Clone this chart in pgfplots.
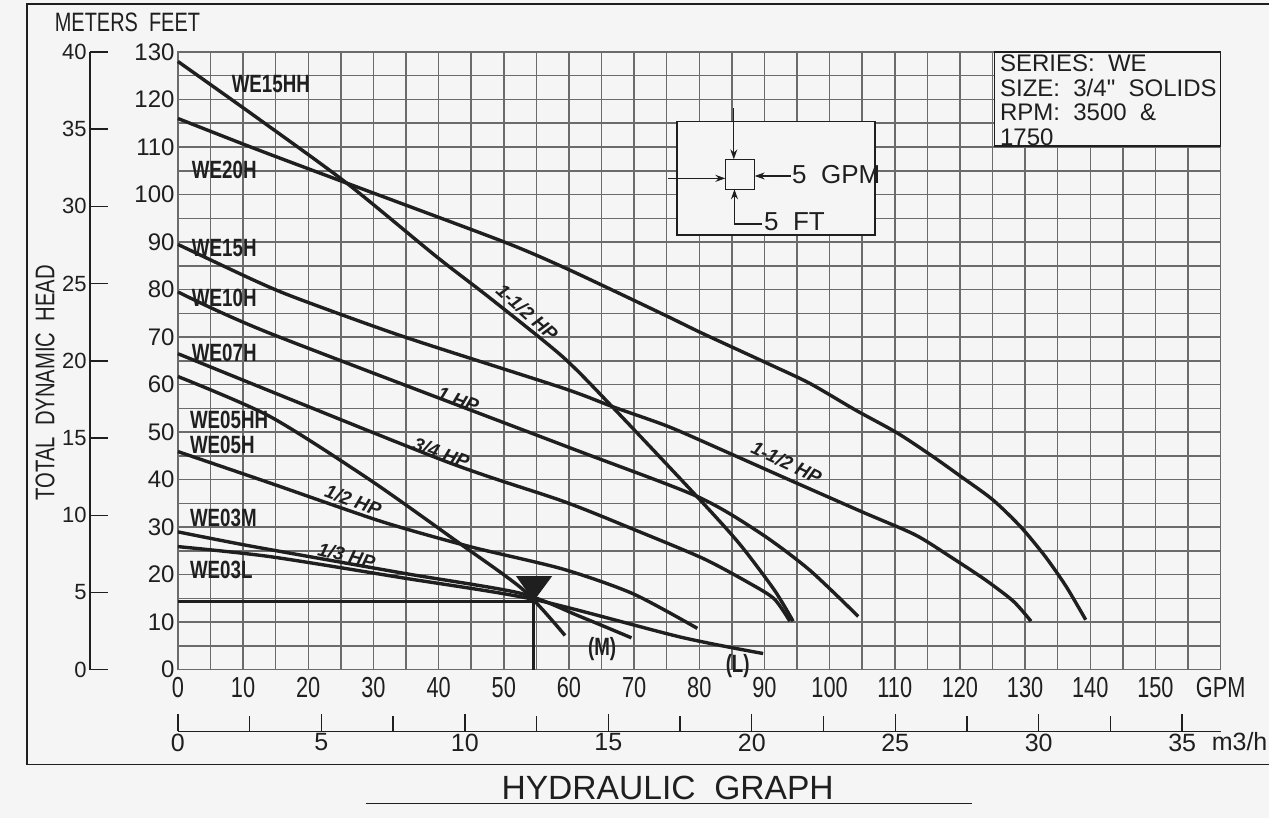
\documentclass[border=0pt]{standalone}
\usepackage{fontspec}
\setmainfont{Liberation Sans}
\newfontfamily\narrow{Liberation Sans}[FakeStretch=0.75]
\usepackage{pgfplots}
\pgfplotsset{compat=1.18}
\usetikzlibrary{arrows.meta}

\definecolor{paper}{gray}{0.96}
\definecolor{ink}{gray}{0.12}
\definecolor{gridc}{gray}{0.42}

\tikzset{
  curve/.style={ink, line width=1.7pt, smooth, tension=0.45},
  wename/.style={font=\narrow\bfseries\fontsize{12.5}{13}\selectfont, text=ink, anchor=west, inner sep=0pt},
  hplabel/.style={font=\bfseries\itshape\fontsize{9.5}{10}\selectfont, text=ink, inner sep=0pt},
  keyarrow/.style={ink, line width=0.6pt, -{Stealth[length=5pt,width=3.5pt]}},
}

% pump curves, feet of head vs GPM
\pgfplotstableread{
x y
0 128
12.3 116
25.9 102.4
39.7 86.9
47.9 78.2
59 65.9
66.6 55.4
79.6 36.5
86.1 26.6
91.5 16.8
94.4 10.2
}\weHH
\pgfplotstableread{
x y
0 116
12.3 109.4
25.9 102.4
49.9 90.1
59 84.8
67.1 79.6
75.2 74.3
80.6 70.7
90.4 64.5
96.9 60.3
103.9 54.7
110.4 49.8
115.8 44.9
120.1 40.7
125 35.8
129.3 30.1
133.1 23.8
136.3 17.5
139.3 10.5
}\weTwentyH
\pgfplotstableread{
x y
0 89.5
11.6 82
18.2 78.2
34.6 70.1
59 59.3
66.6 55.4
75.2 51.2
83.4 46.3
93.4 40.2
105 33.2
113.1 28.4
118.5 23.8
123.9 18.9
128.2 14.4
130.9 10.2
}\weFifteenH
\pgfplotstableread{
x y
0 79.5
14.1 70.8
59 47.3
79.6 36.5
89.3 28.8
96.9 21.0
104.4 11.2
}\weTenH
\pgfplotstableread{
x y
0 66.5
40.4 44.2
59 35.5
69.8 29.6
80.6 23.4
87.7 18.2
91.5 14.9
93.9 10.2
}\weSevenH
\pgfplotstableread{
x y
0 61.7
14.1 53.3
29.4 40
43 26.8
53 16.8
59.4 7.2
}\weFiveHH
\pgfplotstableread{
x y
0 45.9
14.1 39.3
31.2 31.2
44.8 25.9
59 21.2
69.8 16
79.7 8.7
}\weFiveH
\pgfplotstableread{
x y
0 29
11.6 25.9
34.6 20.3
52.5 16.1
61.7 11.2
69.6 6.7
}\weThreeM
\pgfplotstableread{
x y
0 25.9
14.1 23.8
34.6 19.3
54.6 14.8
77 6.9
89.8 3.4
}\weThreeL

\begin{document}
\begin{tikzpicture}
% page = reference at 0.5pt per pixel, origin of the plot at (0,0)
\begin{scope}[x=0.5pt,y=-0.5pt,shift={(-89pt,335pt)}]
  \path[use as bounding box] (0,0) rectangle (1270,818);
  \fill[paper] (0,0) rectangle (1270,818);
\end{scope}

\begin{axis}[
    at={(0,0)}, anchor=south west,
    scale only axis, width=521.6pt, height=309pt,
    xmin=0, xmax=160, ymin=0, ymax=130,
    xtick={0,10,...,160},
    xticklabels={0,10,20,30,40,50,60,70,80,90,100,110,120,130,140,150,GPM},
    minor xtick={5,15,...,155},
    ytick={0,10,...,130}, minor ytick={5,15,...,125},
    grid=both,
    grid style={gridc, line width=0.75pt},
    minor grid style={gridc, line width=0.75pt},
    major tick length=0pt, minor tick length=0pt,
    axis line style={gridc, line width=0.8pt},
    /pgf/number format/assume math mode=true,
    xticklabel style={font=\narrow\fontsize{14.5}{15}\selectfont, inner sep=3.5pt, text=ink},
    yticklabel style={font=\fontsize{12}{12}\selectfont, inner sep=1.5pt, text=ink},
    clip=false,
  ]
  \addplot[curve] table {\weHH};
  \addplot[curve] table {\weTwentyH};
  \addplot[curve] table {\weFifteenH};
  \addplot[curve] table {\weTenH};
  \addplot[curve] table {\weSevenH};
  \addplot[curve] table {\weFiveHH};
  \addplot[curve] table {\weFiveH};
  \addplot[curve] table {\weThreeM};
  \addplot[curve] table {\weThreeL};

  % duty point
  \addplot[ink, line width=1.5pt] coordinates {(0,14.4) (54.6,14.4) (54.6,0)};
  \addplot[ink, fill=ink] coordinates {(52.0,19.6) (57.3,19.6) (54.6,14.6)} -- cycle;

  % model names
  \node[wename] at (axis cs:8.2,123.3) {WE15HH};
  \node[wename] at (axis cs:2.1,105.2) {WE20H};
  \node[wename] at (axis cs:2.1,88.7) {WE15H};
  \node[wename] at (axis cs:2.1,78.2) {WE10H};
  \node[wename] at (axis cs:2.1,66.6) {WE07H};
  \node[wename] at (axis cs:1.8,52.6) {WE05HH};
  \node[wename] at (axis cs:1.8,47.3) {WE05H};
  \node[wename] at (axis cs:1.8,31.9) {WE03M};
  \node[wename] at (axis cs:1.8,21.0) {WE03L};
  \node[wename, anchor=center] at (axis cs:65.1,4.4) {(M)};
  \node[wename, anchor=center] at (axis cs:85.9,0.8) {(L)};

  % horsepower
  \node[hplabel, rotate=-42] at (axis cs:53.6,75.2) {1-1/2 HP};
  \node[hplabel, rotate=-25] at (axis cs:93.4,43.6) {1-1/2 HP};
  \node[hplabel, rotate=-20] at (axis cs:43.0,56.8) {1 HP};
  \node[hplabel, rotate=-20] at (axis cs:40.4,45.6) {3/4 HP};
  \node[hplabel, rotate=-20] at (axis cs:26.9,35.6) {1/2 HP};
  \node[hplabel, rotate=-14] at (axis cs:25.9,24.0) {1/3 HP};

  % series box
  \draw[ink, line width=0.7pt, fill=paper] (axis cs:125.3,110.2) rectangle (axis cs:160,130);
  \node[anchor=north west, inner sep=0pt, align=left, text=ink,
        font=\fontsize{12}{12.25}\selectfont] at (axis cs:126.1,129.4)
       {SERIES:\ \ WE\\SIZE:\ \ 3/4\textquotedbl\ \ SOLIDS\\RPM:\ \ 3500\ \ \&\\1750};

  % scale key
  \draw[ink, line width=0.8pt, fill=paper] (axis cs:76.6,91.5) rectangle (axis cs:107,115.4);
  \draw[ink, line width=0.6pt] (axis cs:84.0,101.1) rectangle (axis cs:88.5,107.4);
  \draw[keyarrow] (axis cs:85.3,118.2) -- (axis cs:85.3,107.4);
  \draw[keyarrow] (axis cs:75.2,103.4) -- (axis cs:84.0,103.4);
  \draw[keyarrow] (axis cs:94.1,103.9) -- (axis cs:88.5,103.9);
  \draw[keyarrow] (axis cs:89.7,93.8) -- (axis cs:85.4,93.8) -- (axis cs:85.4,101.1);
  \node[anchor=west, inner sep=0pt, text=ink, font=\fontsize{13}{13}\selectfont] at (axis cs:94.2,104.2) {5\ \ GPM};
  \node[anchor=west, inner sep=0pt, text=ink, font=\fontsize{13}{13}\selectfont] at (axis cs:89.9,94.2) {5\ \ FT};
\end{axis}

% metres scale
\begin{axis}[
    at={(-44pt,0pt)}, anchor=south west,
    scale only axis, width=20pt, height=309pt,
    xmin=0, xmax=1, ymin=0, ymax=40,
    hide x axis, axis y line*=left,
    ytick={0,5,...,40}, tick align=inside, major tick length=9pt,
    tick style={ink, line width=0.7pt}, axis line style={ink, line width=0.7pt},
    /pgf/number format/assume math mode=true,
    yticklabel style={font=\fontsize{11}{11}\selectfont, inner sep=1.5pt, text=ink},
  ]
  \addplot[draw=none] coordinates {(0,0)};
\end{axis}

% cubic metres per hour scale
\begin{axis}[
    at={(0,-30.85pt)}, anchor=south west,
    scale only axis, width=521.6pt, height=10pt,
    xmin=0, xmax=36.34, ymin=0, ymax=1,
    hide y axis, axis x line*=bottom,
    xtick={0,5,...,35}, minor xtick={2.5,7.5,...,32.5},
    tick align=inside, major tick length=8.5pt, minor tick length=7.5pt,
    tick style={ink, line width=0.7pt}, axis line style={ink, line width=0.7pt},
    /pgf/number format/assume math mode=true,
    xticklabel style={font=\fontsize{12.5}{12.5}\selectfont, inner sep=1pt, text=ink},
  ]
  \addplot[draw=none] coordinates {(0,0)};
\end{axis}

\begin{scope}[x=0.5pt,y=-0.5pt,shift={(-89pt,335pt)}]
  \draw[ink, line width=0.6pt] (1270,4) -- (27,4) -- (27,765) -- (1270,765);
  \node[text=ink, font=\narrow\fontsize{13.3}{13.3}\selectfont] at (127.5,22) {METERS\ \ FEET};
  \node[text=ink, rotate=90, font=\narrow\fontsize{13.5}{13.5}\selectfont] at (45,383) {TOTAL\ \ DYNAMIC\ \ HEAD};
  \node[anchor=west, inner sep=0pt, text=ink, font=\fontsize{12.5}{12.5}\selectfont] at (1212,742) {m3/h};
  \node[text=ink, font=\fontsize{16.8}{16.8}\selectfont] at (668,788) {HYDRAULIC\ \ GRAPH};
  \draw[ink, line width=0.6pt] (366,804) -- (972,804);
\end{scope}
\end{tikzpicture}
\end{document}
